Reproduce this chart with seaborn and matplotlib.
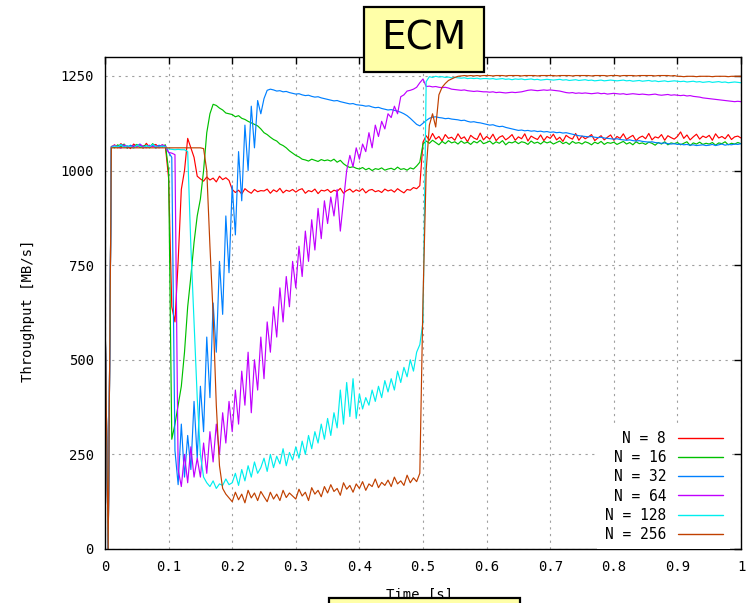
import numpy as np
import pandas as pd
import matplotlib
matplotlib.use("Agg")
import matplotlib.pyplot as plt
import seaborn as sns
from matplotlib.patches import Rectangle

# sampling instants of the measurement (every 5 ms)
time_s = np.round(np.arange(201) * 0.005, 3)

n8 = [630, 0, 1062, 1068, 1060, 1071, 1063, 1066, 1058, 1070,
      1064, 1067, 1059, 1072, 1061, 1066, 1069, 1060, 1068, 1063,
      980, 640, 600, 760, 950, 1000, 1085, 1060, 1035, 985,
      978, 972, 983, 975, 980, 970, 985, 976, 981, 974,
      950, 942, 948, 938, 952, 945, 940, 950, 944, 947,
      946, 951, 940, 949, 944, 953, 941, 948, 945, 950,
      943, 949, 952, 940, 947, 944, 951, 939, 948, 946,
      950, 942, 948, 945, 953, 940, 947, 951, 943, 949,
      945, 952, 941, 948, 950, 944, 947, 942, 951, 946,
      949, 943, 952, 946, 941, 950, 948, 955, 952, 960,
      1075, 1092, 1080, 1098, 1083, 1090, 1078, 1095, 1085, 1088,
      1080, 1097, 1084, 1089, 1076, 1093, 1086, 1082, 1099, 1081,
      1090, 1083, 1096, 1079, 1088, 1092, 1081, 1087, 1095, 1080,
      1089, 1084, 1097, 1078, 1091, 1086, 1082, 1094, 1079, 1090,
      1085, 1096, 1081, 1088, 1077, 1093, 1087, 1083, 1098, 1080,
      1091, 1084, 1089, 1095, 1079, 1086, 1092, 1081, 1088, 1094,
      1080, 1090, 1085, 1097, 1082, 1088, 1093, 1079, 1087, 1091,
      1084, 1098, 1081, 1089, 1086, 1095, 1080, 1092, 1087, 1083,
      1090, 1102, 1085, 1094, 1081, 1089, 1096, 1083, 1091, 1087,
      1093, 1080, 1097, 1086, 1090, 1084, 1095, 1082, 1089, 1091,
      1086]

n16 = [630, 0, 1064, 1060, 1068, 1062, 1070, 1059, 1066, 1063,
       1069, 1061, 1065, 1067, 1060, 1071, 1062, 1066, 1064, 1068,
       1000, 290, 330, 380, 430, 520, 640, 720, 810, 880,
       925, 1000, 1100, 1150, 1175, 1172, 1165, 1160, 1152, 1150,
       1148, 1142, 1145, 1138, 1135, 1130, 1126, 1122, 1118, 1110,
       1100, 1095, 1088, 1082, 1078, 1070, 1066, 1060, 1052, 1046,
       1040, 1036, 1030, 1028, 1025, 1030, 1027, 1024, 1029, 1026,
       1028, 1025, 1030, 1022, 1027, 1018, 1012, 1008, 1010, 1006,
       1004, 1008, 1002, 1006, 1000, 1005, 1003, 1007, 1001, 1004,
       1006, 1002, 1009, 1003, 1005, 1001, 1007, 1004, 1012, 1022,
       1070, 1078, 1072, 1080, 1074, 1068, 1077, 1071, 1079, 1073,
       1076, 1070, 1078, 1072, 1075, 1069, 1077, 1073, 1080, 1071,
       1074, 1078, 1070, 1076, 1072, 1079, 1068, 1075, 1073, 1077,
       1071, 1076, 1074, 1069, 1078, 1072, 1075, 1070, 1077, 1073,
       1076, 1070, 1074, 1078, 1071, 1075, 1069, 1077, 1072, 1074,
       1070, 1076, 1073, 1068, 1075, 1071, 1077, 1069, 1074, 1072,
       1075, 1069, 1073, 1077, 1070, 1074, 1068, 1076, 1071, 1073,
       1069, 1075, 1072, 1067, 1074, 1070, 1076, 1068, 1073, 1071,
       1074, 1068, 1072, 1076, 1066, 1073, 1070, 1075, 1069, 1072,
       1070, 1074, 1067, 1073, 1071, 1076, 1068, 1072, 1070, 1074,
       1071]

n32 = [630, 0, 1063, 1066, 1061, 1069, 1064, 1060, 1067, 1062,
       1065, 1070, 1061, 1066, 1063, 1068, 1059, 1067, 1062, 1065,
       1048, 1035, 260, 170, 330, 190, 300, 210, 390, 240,
       430, 310, 560, 400, 650, 520, 760, 620, 880, 730,
       960, 830, 1050, 920, 1120, 1000, 1170, 1060, 1185, 1150,
       1190, 1212, 1215, 1213, 1210, 1211, 1208, 1209, 1206, 1204,
       1202, 1203, 1200, 1198, 1199, 1196, 1194, 1195, 1192, 1190,
       1188, 1186, 1184, 1185, 1182, 1180, 1178, 1176, 1177, 1174,
       1173, 1172, 1170, 1171, 1168, 1166, 1167, 1164, 1162, 1160,
       1161, 1159, 1157, 1154, 1150, 1145, 1138, 1130, 1122, 1118,
       1125, 1132, 1138, 1141, 1142, 1140, 1139, 1137, 1138, 1136,
       1135, 1134, 1132, 1133, 1130, 1128, 1129, 1127, 1126, 1124,
       1122, 1120, 1121, 1118, 1116, 1117, 1114, 1112, 1110, 1108,
       1106, 1107, 1105, 1106, 1104, 1105, 1103, 1104, 1102, 1103,
       1101, 1102, 1100, 1101, 1099, 1100, 1098, 1096, 1094, 1092,
       1091, 1090, 1089, 1090, 1088, 1087, 1088, 1086, 1085, 1084,
       1083, 1084, 1082, 1081, 1080, 1081, 1079, 1078, 1079, 1077,
       1076, 1075, 1076, 1074, 1073, 1072, 1073, 1071, 1070, 1071,
       1069, 1070, 1068, 1069, 1067, 1068, 1066, 1067, 1068, 1066,
       1067, 1069, 1066, 1068, 1070, 1067, 1069, 1068, 1070, 1069,
       1071]

n64 = [630, 0, 1061, 1067, 1063, 1059, 1068, 1064, 1061, 1066,
       1062, 1069, 1064, 1060, 1067, 1063, 1066, 1061, 1068, 1064,
       1048, 1046, 1042, 210, 165, 250, 175, 270, 190, 240,
       190, 280, 200, 310, 230, 330, 250, 360, 280, 390,
       310, 420, 330, 470, 380, 520, 360, 500, 420, 560,
       450, 600, 520, 640, 560, 690, 600, 720, 640, 760,
       690, 800, 720, 840, 760, 870, 790, 900, 820, 920,
       860, 930, 880, 950, 840, 920, 1000, 1040, 1010, 1060,
       1030, 1070, 1050, 1100, 1060, 1120, 1090, 1130, 1110, 1150,
       1140, 1170, 1150, 1195, 1200, 1210, 1212, 1215, 1220, 1232,
       1242, 1222, 1223, 1221, 1222, 1220, 1219, 1220, 1218, 1215,
       1214, 1213, 1212, 1213, 1211, 1210, 1209, 1210, 1209, 1208,
       1208, 1207, 1208, 1206, 1207, 1206, 1205, 1206, 1207, 1206,
       1207, 1208, 1210, 1212, 1213, 1212, 1211, 1212, 1213, 1212,
       1213, 1212, 1211, 1210, 1208, 1206, 1205, 1206, 1204, 1205,
       1204, 1205, 1204, 1203, 1204, 1205, 1203, 1204, 1202, 1203,
       1204, 1203, 1202, 1203, 1201, 1202, 1203, 1202, 1201, 1202,
       1201, 1200, 1201, 1202, 1200, 1199, 1200, 1201, 1199, 1200,
       1199, 1198, 1199, 1197, 1198, 1196, 1195, 1194, 1192, 1191,
       1190, 1189, 1188, 1187, 1186, 1185, 1184, 1183, 1182, 1183,
       1182]

n128 = [630, 0, 1060, 1065, 1062, 1068, 1061, 1066, 1063, 1059,
        1067, 1064, 1060, 1066, 1062, 1069, 1063, 1061, 1065, 1062,
        1057, 1056, 1055, 1056, 1055, 1055, 1050, 800, 600, 400,
        250, 190, 175, 165, 180, 160, 172, 168, 185, 170,
        175, 200, 168, 210, 180, 220, 190, 230, 200, 215,
        240, 205, 250, 215, 245, 225, 265, 220, 255, 235,
        270, 240, 285, 250, 300, 265, 310, 280, 330, 290,
        345, 300, 360, 320, 420, 330, 440, 350, 450, 345,
        410, 370, 400, 380, 420, 390, 430, 400, 445, 415,
        450, 420, 470, 440, 480, 455, 500, 470, 520, 540,
        600, 1235, 1248, 1246, 1249, 1247, 1248, 1246, 1247, 1245,
        1246, 1245, 1244, 1245, 1243, 1244, 1243, 1244, 1242, 1243,
        1243, 1242, 1243, 1241, 1242, 1243, 1241, 1242, 1240, 1242,
        1241, 1242, 1240, 1241, 1242, 1240, 1241, 1239, 1240, 1241,
        1240, 1239, 1240, 1241, 1239, 1240, 1238, 1239, 1240, 1238,
        1239, 1240, 1238, 1239, 1237, 1238, 1239, 1237, 1238, 1239,
        1238, 1237, 1238, 1239, 1237, 1238, 1236, 1237, 1238, 1236,
        1237, 1238, 1236, 1237, 1235, 1236, 1237, 1235, 1236, 1237,
        1236, 1235, 1236, 1234, 1235, 1236, 1234, 1235, 1233, 1234,
        1235, 1233, 1234, 1235, 1233, 1234, 1232, 1233, 1234, 1233,
        1232]

n256 = [630, 0, 1060, 1060, 1060, 1060, 1060, 1060, 1060, 1060,
        1060, 1060, 1060, 1060, 1060, 1060, 1060, 1060, 1060, 1060,
        1060, 1060, 1060, 1060, 1060, 1060, 1060, 1060, 1060, 1060,
        1060, 1058, 1000, 800, 620, 380, 220, 160, 145, 135,
        125, 150, 130, 145, 122, 155, 135, 148, 128, 152,
        138, 125, 150, 132, 145, 128, 155, 136, 148, 140,
        132, 158, 140, 150, 128, 162, 145, 155, 138, 165,
        148, 170, 152, 160, 142, 175, 158, 168, 150, 172,
        160, 178, 155, 172, 165, 185, 162, 176, 168, 182,
        165, 190, 172, 180, 168, 195, 175, 188, 178, 200,
        660, 1000, 1120, 1150, 1115, 1200, 1220, 1230, 1238, 1242,
        1246, 1249, 1250, 1251, 1250, 1251, 1250, 1251, 1250, 1251,
        1251, 1251, 1250, 1251, 1251, 1251, 1250, 1251, 1251, 1251,
        1251, 1250, 1251, 1251, 1251, 1251, 1250, 1251, 1251, 1251,
        1251, 1251, 1250, 1251, 1251, 1251, 1251, 1250, 1251, 1251,
        1251, 1251, 1251, 1250, 1251, 1251, 1251, 1251, 1250, 1251,
        1251, 1251, 1250, 1251, 1251, 1251, 1251, 1250, 1251, 1251,
        1251, 1251, 1251, 1250, 1251, 1251, 1251, 1251, 1250, 1251,
        1249, 1249, 1248, 1249, 1249, 1249, 1248, 1249, 1249, 1249,
        1249, 1248, 1249, 1249, 1249, 1249, 1248, 1249, 1249, 1249,
        1249]

series_labels = ["N = 8", "N = 16", "N = 32", "N = 64", "N = 128", "N = 256"]
series_values = [n8, n16, n32, n64, n128, n256]
series_colors = ["#ff0000", "#00c000", "#0080ff", "#c000ff", "#00eeee", "#c04000"]

x_ticks = [0, 0.1, 0.2, 0.3, 0.4, 0.5, 0.6, 0.7, 0.8, 0.9, 1.0]
x_tick_labels = ["0", "0.1", "0.2", "0.3", "0.4", "0.5", "0.6", "0.7", "0.8", "0.9", "1"]
y_ticks = [0, 250, 500, 750, 1000, 1250]
y_tick_labels = ["0", "250", "500", "750", "1000", "1250"]

title_text = "ECM"
x_label = "Time [s]"
y_label = "Throughput [MB/s]"

df = pd.concat(
    [pd.DataFrame({"t": time_s, "v": vals, "N": lab})
     for lab, vals in zip(series_labels, series_values)],
    ignore_index=True)

sns.set_style("white")
plt.rcParams["font.family"] = ["DejaVu Sans Mono"]
plt.rcParams["font.size"] = 10
plt.rcParams["text.color"] = "black"
plt.rcParams["axes.labelcolor"] = "black"

W, H = 751, 603
fig = plt.figure(figsize=(W / 100, H / 100), dpi=100)
ax = fig.add_axes([105 / W, 1 - 549 / H, 636 / W, 492 / H])

sns.lineplot(data=df, x="t", y="v", hue="N", hue_order=series_labels,
             palette=series_colors, estimator=None, sort=False,
             linewidth=0.85, ax=ax, legend=True)

ax.set_xlim(0, 1)
ax.set_ylim(0, 1300)
ax.set_xticks(x_ticks)
ax.set_xticklabels(x_tick_labels)
ax.set_yticks(y_ticks)
ax.set_yticklabels(y_tick_labels)
ax.set_xlabel("")
ax.set_ylabel("")
ax.grid(True, linestyle=(0, (2, 4)), color="#a0a0a0", linewidth=0.8)
ax.set_axisbelow(True)
ax.tick_params(direction="in", top=True, right=True, length=5, width=1,
               colors="black", labelsize=10, pad=8)
for s in ax.spines.values():
    s.set_color("black")
    s.set_linewidth(1.0)

handles, labels = ax.get_legend_handles_labels()
for h in handles:
    h.set_linewidth(1.0)
leg = ax.legend(handles, labels, loc="lower right", bbox_to_anchor=(0.983, 0.0),
                borderaxespad=0, markerfirst=False, frameon=True,
                facecolor="white", edgecolor="none", framealpha=1,
                fancybox=False, handlelength=3.1, handletextpad=0.8,
                labelspacing=0.28, borderpad=0.5, fontsize=10.5)
for t in leg.get_texts():
    t.set_color("black")
leg.set_zorder(5)

# y label and x label
fig.text(28 / W, 1 - 311 / H, y_label, rotation=90, ha="center", va="center",
         fontsize=10, color="black")
fig.text(420 / W, 1 - 595 / H, x_label, ha="center", va="center", fontsize=10,
         color="black", zorder=1)

# title box
fig.patches.append(Rectangle((364 / W, 1 - 72 / H), 120 / W, 65 / H,
                             transform=fig.transFigure, facecolor="#ffffa8",
                             edgecolor="black", linewidth=1.6, zorder=10))
fig.text(424 / W, 1 - 39 / H, title_text, ha="center", va="center",
         fontsize=28, family=["DejaVu Sans"], color="black", zorder=11)

# bottom box (cut by the image edge)
fig.patches.append(Rectangle((329 / W, -20 / H), 191 / W, 25 / H,
                             transform=fig.transFigure, facecolor="#ffffa8",
                             edgecolor="black", linewidth=1.6, zorder=10))

fig.savefig("out.png", dpi=100)
